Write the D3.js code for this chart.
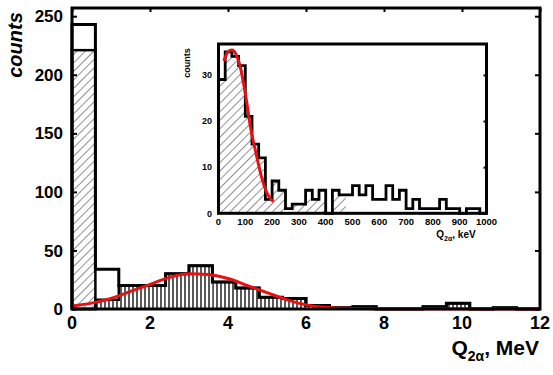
<!DOCTYPE html>
<html>
<head>
<meta charset="utf-8">
<script src="https://cdn.jsdelivr.net/npm/d3@7"></script>
<style>
  body { margin: 0; background: #fff; }
  text { font-family: "Liberation Sans", Arial, sans-serif; font-weight: bold; }
</style>
</head>
<body>
<script>
// main histogram, 0.6 MeV bins
const mainEdges = d3.range(0, 21).map(i => +(i * 0.6).toFixed(1));
const mainTotal = [243, 34, 20, 20, 30, 37, 23, 18, 10, 9, 3, 1, 2, 0, 0, 2, 5, 0, 1, 0];
const mainDiag  = [221, 0, 0, 0, 0, 0, 0, 0, 0, 0, 0, 0, 0, 0, 0, 0, 0, 0, 0, 0];
const mainVert  = [0, 8, 20, 20, 30, 37, 23, 18, 10, 9, 3, 1, 2, 0, 0, 2, 5, 0, 1, 0];
const mainFit = [[0, 2.5], [0.5, 5], [1, 9], [1.5, 15], [2, 21], [2.5, 27], [3, 30], [3.5, 29.5],
                 [4, 26], [4.5, 20], [5, 14], [5.5, 8], [6, 3.5], [6.5, 1.5], [7, 0.6], [8, 0.2], [12, 0]];
const mainXTicks = [0, 2, 4, 6, 8, 10, 12];
const mainYTicks = [0, 50, 100, 150, 200, 250];

// inset histogram, 25 keV bins
const insetEdges = d3.range(0, 41).map(i => i * 25);
const insetTotal = [29, 35, 34, 32, 21, 15, 12, 3, 7, 5, 1, 2, 2, 5, 3, 5, 0, 5, 4, 4,
                    6, 4, 6, 3, 3, 6, 3, 5, 1, 3, 1, 1, 1, 3, 1, 1, 0, 1, 1, 0];
const insetDiag  = [29, 35, 34, 32, 21, 15, 12, 3, 7, 5, 0, 2, 2, 3, 3, 3, 0, 4, 4, 0,
                    0, 0, 0, 0, 0, 0, 0, 0, 0, 0, 0, 0, 0, 0, 0, 0, 0, 0, 0, 0];
const insetFit = [[20, 33], [35, 35], [50, 35.4], [65, 34.5], [80, 32], [100, 26], [120, 18.5],
                  [140, 13], [160, 8], [180, 4.5], [205, 2.5]];
const insetXTicks = [0, 100, 200, 300, 400, 500, 600, 700, 800, 900, 1000];
const insetYTicks = [0, 10, 20, 30];

const W = 553, H = 375;
const svg = d3.select("body").append("svg").attr("width", W).attr("height", H);

const defs = svg.append("defs");
defs.append("pattern")
    .attr("id", "diag").attr("patternUnits", "userSpaceOnUse")
    .attr("width", 6).attr("height", 6).attr("patternTransform", "rotate(45)")
  .append("line").attr("x1", 0).attr("y1", 0).attr("x2", 0).attr("y2", 6)
    .attr("stroke", "#222").attr("stroke-width", 1);
defs.append("pattern")
    .attr("id", "vert").attr("patternUnits", "userSpaceOnUse")
    .attr("width", 4).attr("height", 4)
  .append("line").attr("x1", 1).attr("y1", 0).attr("x2", 1).attr("y2", 4)
    .attr("stroke", "#000").attr("stroke-width", 1.3);

function bars(g, x, y, edges, vals, fill, sw) {
  g.append("g").selectAll("rect")
    .data(vals.map((v, i) => ({ x0: edges[i], x1: edges[i + 1], v })).filter(d => d.v > 0))
    .enter().append("rect")
      .attr("x", d => x(d.x0))
      .attr("y", d => y(d.v))
      .attr("width", d => x(d.x1) - x(d.x0))
      .attr("height", d => y(0) - y(d.v))
      .attr("fill", fill)
      .attr("stroke", sw ? "#000" : "none")
      .attr("stroke-width", sw);
}

function outline(g, x, y, edges, vals, sw) {
  const pts = [[edges[0], 0]].concat(vals.map((v, i) => [edges[i], v]))
    .concat([[edges[edges.length - 1], vals[vals.length - 1]], [edges[edges.length - 1], 0]]);
  g.append("path")
    .attr("d", d3.line().x(d => x(d[0])).y(d => y(d[1])).curve(d3.curveStepAfter)(pts))
    .attr("fill", "none").attr("stroke", "#000").attr("stroke-width", sw)
    .attr("stroke-linejoin", "miter");
}

// ---- main plot
const x = d3.scaleLinear().domain([0, 12]).range([72, 540]);
const y = d3.scaleLinear().domain([0, 257]).range([309, 8]);
const main = svg.append("g");

bars(main, x, y, mainEdges, mainVert, "url(#vert)", 0);
outline(main, x, y, mainEdges, mainVert, 2.5);
bars(main, x, y, mainEdges, mainDiag, "url(#diag)", 2.5);
outline(main, x, y, mainEdges, mainTotal, 3);

main.append("path")
    .datum(mainFit)
    .attr("d", d3.line().x(d => x(d[0])).y(d => y(d[1])).curve(d3.curveMonotoneX))
    .attr("fill", "none").attr("stroke", "#e81010").attr("stroke-width", 3);

// frame + inward ticks
main.append("rect").attr("x", x(0)).attr("y", y(257)).attr("width", x(12) - x(0)).attr("height", y(0) - y(257))
    .attr("fill", "none").attr("stroke", "#000").attr("stroke-width", 3);
main.append("g").attr("transform", `translate(${x(0)},0)`)
    .call(d3.axisRight(y).tickValues(mainYTicks).tickSize(5).tickFormat(""))
    .call(g => g.select(".domain").remove())
    .selectAll("line").attr("stroke-width", 2);
main.append("g").attr("transform", `translate(${x(12)},0)`)
    .call(d3.axisLeft(y).tickValues(mainYTicks).tickSize(5).tickFormat(""))
    .call(g => g.select(".domain").remove())
    .selectAll("line").attr("stroke-width", 2);
main.append("g").attr("transform", `translate(0,${y(257)})`)
    .call(d3.axisBottom(x).tickValues(mainXTicks).tickSize(4).tickFormat(""))
    .call(g => g.select(".domain").remove())
    .selectAll("line").attr("stroke-width", 2);

main.append("g").selectAll("text").data(mainYTicks).enter().append("text")
    .attr("x", 63).attr("y", d => y(d)).attr("dy", "0.36em")
    .attr("text-anchor", "end").attr("font-size", 17).text(d => d);
main.append("g").selectAll("text").data(mainXTicks).enter().append("text")
    .attr("x", d => x(d)).attr("y", 329)
    .attr("text-anchor", "middle").attr("font-size", 18).text(d => d);

main.append("text")
    .attr("transform", "translate(22,45) rotate(-90)")
    .attr("text-anchor", "middle").attr("font-size", 20).attr("font-style", "italic")
    .text("counts");

const xt = main.append("text").attr("x", 539).attr("y", 355).attr("text-anchor", "end").attr("font-size", 21);
xt.append("tspan").text("Q");
xt.append("tspan").attr("font-size", 14).attr("dy", 6).text("2α");
xt.append("tspan").attr("dy", -6).text(", MeV");

// ---- inset
const ix = d3.scaleLinear().domain([0, 1000]).range([218.5, 486.5]);
const iy = d3.scaleLinear().domain([0, 36.7]).range([213.3, 44]);
const inset = svg.append("g");

inset.append("rect").attr("x", ix(0)).attr("y", iy(36.7)).attr("width", ix(1000) - ix(0)).attr("height", iy(0) - iy(36.7))
    .attr("fill", "#fff");
bars(inset, ix, iy, insetEdges, insetDiag, "url(#diag)", 0);
outline(inset, ix, iy, insetEdges, insetTotal, 2.8);

inset.append("path")
    .datum(insetFit)
    .attr("d", d3.line().x(d => ix(d[0])).y(d => iy(d[1])).curve(d3.curveMonotoneX))
    .attr("fill", "none").attr("stroke", "#e81010").attr("stroke-width", 3);

inset.append("rect").attr("x", ix(0)).attr("y", iy(36.7)).attr("width", ix(1000) - ix(0)).attr("height", iy(0) - iy(36.7))
    .attr("fill", "none").attr("stroke", "#000").attr("stroke-width", 3);
inset.append("g").attr("transform", `translate(${ix(1000)},0)`)
    .call(d3.axisLeft(iy).tickValues(insetYTicks).tickSize(3).tickFormat(""))
    .call(g => g.select(".domain").remove())
    .selectAll("line").attr("stroke-width", 2);

inset.append("g").selectAll("text").data(insetYTicks).enter().append("text")
    .attr("x", 212).attr("y", d => iy(d)).attr("dy", "0.36em")
    .attr("text-anchor", "end").attr("font-size", 9).text(d => d);
inset.append("g").selectAll("text").data(insetXTicks).enter().append("text")
    .attr("x", d => ix(d)).attr("y", 225)
    .attr("text-anchor", "middle").attr("font-size", 9.5).text(d => d);

inset.append("text")
    .attr("transform", "translate(190,63) rotate(-90)")
    .attr("text-anchor", "middle").attr("font-size", 9)
    .text("counts");

const it = inset.append("text").attr("x", 456).attr("y", 238).attr("text-anchor", "middle").attr("font-size", 10);
it.append("tspan").text("Q");
it.append("tspan").attr("font-size", 7).attr("dy", 3).text("2α");
it.append("tspan").attr("dy", -3).text(", keV");
</script>
</body>
</html>
